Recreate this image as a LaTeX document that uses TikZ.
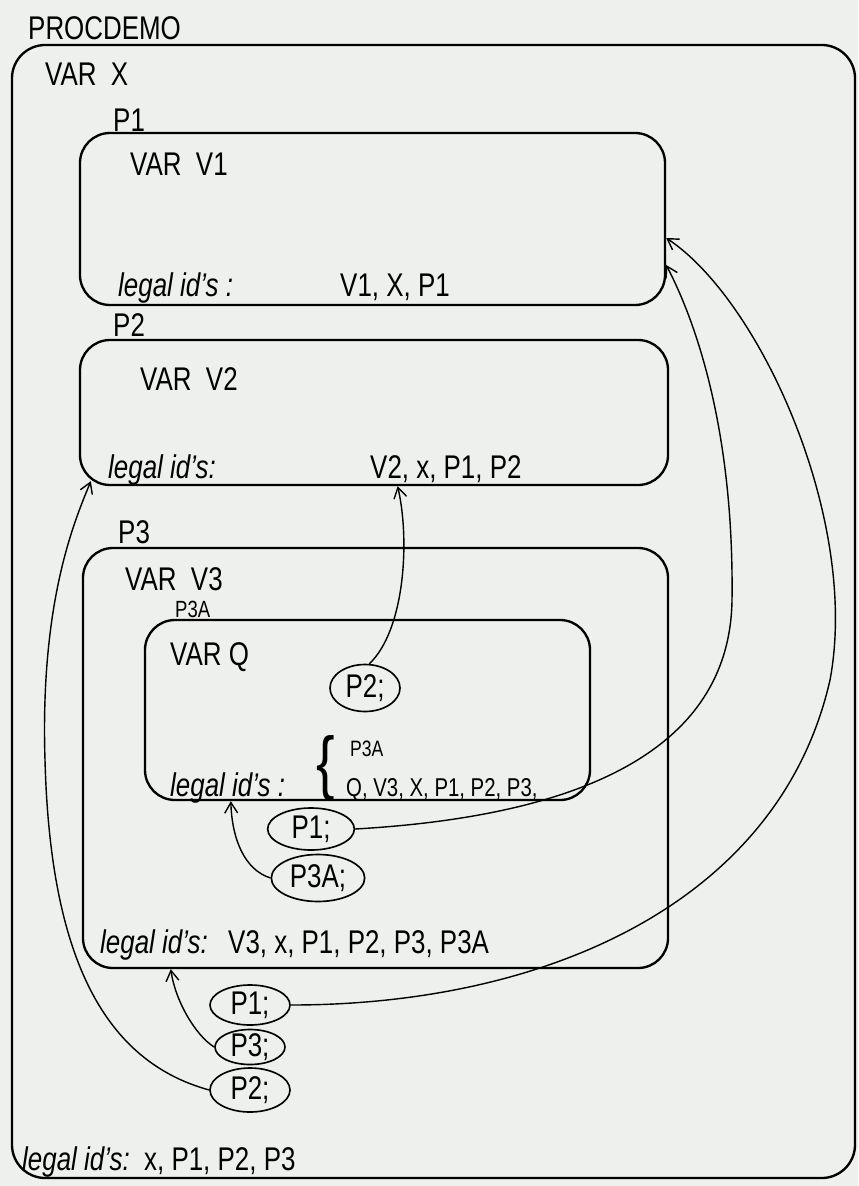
\documentclass[tikz,border=0pt]{standalone}
\usepackage{fontspec}
\setmainfont{Liberation Sans}[FakeStretch=0.79]
\usepackage{xcolor}
\usetikzlibrary{shapes.geometric,arrows.meta,calc}

\definecolor{paper}{RGB}{238,240,237}

\begin{document}
\begin{tikzpicture}[x=0.03cm, y=-0.03cm, font=\fontsize{28}{32}\selectfont,
    procbox/.style={draw, rectangle, rounded corners=0.9cm, line width=2pt},
    callnode/.style={draw, ellipse, line width=1.4pt, inner xsep=-6pt, inner ysep=-5pt},
    idtext/.style={anchor=base west, inner sep=0pt},
    calls/.style={-{Straight Barb[length=9pt,width=11pt]}, line width=1.2pt}]

    \fill[paper] (0,0) rectangle (858,1186);
    \useasboundingbox (0,0) rectangle (858,1186);

    % Define boxes
    \node (procdemo) [procbox, rounded corners=1cm, minimum width=25.29cm, minimum height=33.99cm] at (433.5,611.5) {};
    \node (p1) [procbox, minimum width=17.55cm, minimum height=5.16cm] at (372.5,219) {};
    \node (p2) [procbox, minimum width=17.64cm, minimum height=4.35cm] at (374,412.5) {};
    \node (p3) [procbox, minimum width=17.55cm, minimum height=12.6cm] at (375.5,758) {};
    \node (p3a) [procbox, minimum width=13.35cm, minimum height=5.4cm] at (367.5,710) {};

    % Define texts
    \node (title) [idtext] at (28,40) {PROCDEMO};
    \node (varx) [idtext] at (45,86) {VAR\ \ X};
    \node (procids) [idtext] at (22,1170) {\textit{legal id's:}\ \ x, P1, P2, P3};

    \node (p1name) [idtext] at (113,132) {P1};
    \node (varv1) [idtext] at (130,176) {VAR\ \ V1};
    \node (p1ids) [idtext] at (118,297) {\textit{legal id's :}};
    \node (p1list) [idtext] at (340,297) {V1, X, P1};

    \node (p2name) [idtext] at (113,336) {P2};
    \node (varv2) [idtext] at (140,390) {VAR\ \ V2};
    \node (p2ids) [idtext] at (108,478) {\textit{legal id's:}};
    \node (p2list) [idtext] at (370,478) {V2, x, P1, P2};

    \node (p3name) [idtext] at (118,543) {P3};
    \node (varv3) [idtext] at (125,590) {VAR\ \ V3};
    \node (p3ids) [idtext] at (100,953) {\textit{legal id's:}};
    \node (p3list) [idtext] at (228,953) {V3, x, P1, P2, P3, P3A};

    \node (p3aname) [idtext, font=\fontsize{20}{23}\selectfont] at (175,617) {P3A};
    \node (varq) [idtext] at (170,665) {VAR Q};
    \node (p3aids) [idtext] at (170,796) {\textit{legal id's :}};
    \node (idbrace) [anchor=west, inner sep=0pt, font=\fontsize{60}{60}\selectfont] at (316,768) {\{};
    \node (p3atop) [idtext, font=\fontsize{19}{22}\selectfont] at (350,756) {P3A};
    \node (p3alist) [idtext, font=\fontsize{22}{25}\selectfont] at (346,796) {Q, V3, X, P1, P2, P3,};

    % Define calls
    \node (callp2in) [callnode, minimum width=2.1cm, minimum height=1.41cm] at (365,688) {P2;};
    \node (callp1in) [callnode, minimum width=2.6cm, minimum height=1.26cm] at (311,829) {P1;};
    \node (callp3a) [callnode, minimum width=2.8cm, minimum height=1.41cm] at (318,878) {P3A;};
    \node (callp1) [callnode, minimum width=2.4cm, minimum height=1.2cm] at (250,1005) {P1;};
    \node (callp3) [callnode, minimum width=2.1cm, minimum height=1.05cm] at (250,1047) {P3;};
    \node (callp2) [callnode, minimum width=2.4cm, minimum height=1.32cm] at (250,1090) {P2;};

    % Define connections
    \draw[calls] (callp2in.80) .. controls (405,630) and (410,540) .. ($(p2.south west)!0.54!(p2.south east)$);
    \draw[calls] (callp1in.east) .. controls (600,815) and (730,740) .. (732,600) .. controls (734,440) and (700,330) .. ($(p1.east)+(0,46)$);
    \draw[calls] (callp3a.west) .. controls (245,870) and (232,840) .. ($(p3a.south west)+(87,0)$);
    \draw[calls] (callp1.east) .. controls (550,1005) and (780,900) .. (830,680) .. controls (860,520) and (760,300) .. ($(p1.east)+(0,19)$);
    \draw[calls] (callp3.west) .. controls (195,1035) and (175,1000) .. ($(p3.south west)+(89,0)$);
    \draw[calls] (callp2.west) .. controls (100,1060) and (50,950) .. (45,760) .. controls (40,600) and (75,520) .. ($(p2.south west)+(12,-5)$);

\end{tikzpicture}
\end{document}
